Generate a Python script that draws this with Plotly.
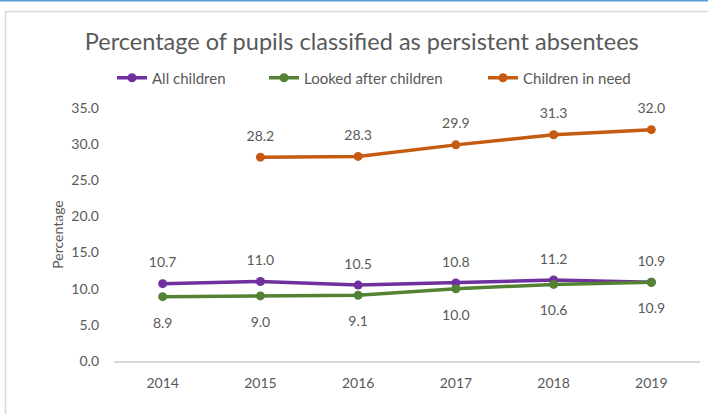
import plotly.graph_objects as go

years = ["2014", "2015", "2016", "2017", "2018", "2019"]
all_children = [10.7, 11.0, 10.5, 10.8, 11.2, 10.9]
looked_after = [8.9, 9.0, 9.1, 10.0, 10.6, 10.9]
children_in_need = [None, 28.2, 28.3, 29.9, 31.3, 32.0]
y_ticks = [0, 5, 10, 15, 20, 25, 30, 35]

FONT = "Lato, 'Open Sans', sans-serif"
GRAY = "#595959"
PL, PR, PT, PB = 114, 8, 108, 53
PW = 708 - PL - PR
PH = 414 - PT - PB

def txt(vals):
    return ["" if v is None else f"{v:.1f}" for v in vals]

def px_x(p):
    return (p - PL) / PW

def px_y(p):
    return (414 - PB - p) / PH

fig = go.Figure()
series = [
    ("All children", all_children, "#7030A0", "top center", 19, "legend", 112),
    ("Looked after children", looked_after, "#548235", "bottom center", 31, "legend2", 264),
    ("Children in need", children_in_need, "#C55A11", "top center", 19, "legend3", 483),
]
for name, vals, col, pos, lblsize, leg, lx in series:
    fig.add_trace(go.Scatter(
        x=years, y=vals, name=name, mode="lines+markers",
        line=dict(color=col, width=3.5),
        marker=dict(color=col, size=9),
        connectgaps=False, legend=leg, cliponaxis=False,
    ))
for name, vals, col, pos, lblsize, leg, lx in series:
    fig.add_trace(go.Scatter(
        x=years, y=vals, mode="markers+text", showlegend=False, hoverinfo="skip",
        marker=dict(color="rgba(0,0,0,0)", size=lblsize),
        text=txt(vals), textposition=pos, cliponaxis=False,
        textfont=dict(family=FONT, size=14, color=GRAY),
    ))

legend_common = dict(orientation="h", yanchor="middle", xanchor="left",
                     font=dict(size=15, color=GRAY, family=FONT),
                     bgcolor="rgba(0,0,0,0)")
legends = {}
for name, vals, col, pos, lblsize, leg, lx in series:
    legends[leg] = dict(legend_common, x=px_x(lx), y=px_y(78))

fig.update_layout(
    width=708, height=414,
    margin=dict(l=PL, r=PR, t=PT, b=PB, autoexpand=False),
    paper_bgcolor="white", plot_bgcolor="white",
    font=dict(family=FONT, color=GRAY),
    title=dict(text="Percentage of pupils classified as persistent absentees",
               x=0.511, xanchor="center", y=1 - 42 / 414, yanchor="middle",
               font=dict(size=23.5, color=GRAY, family=FONT)),
    showlegend=True,
    xaxis=dict(type="category", showgrid=False, showline=True, linecolor="#D9D9D9",
               linewidth=1.5, ticks="", tickfont=dict(size=14, color=GRAY, family=FONT),
               zeroline=False, ticklabelstandoff=8),
    yaxis=dict(range=[0, 35], tickvals=y_ticks, tickformat=".1f", showgrid=False,
               showline=False, zeroline=False, ticks="", ticklabelstandoff=14,
               tickfont=dict(size=14, color=GRAY, family=FONT),
               title=dict(text="Percentage", font=dict(size=14, color=GRAY, family=FONT),
                          standoff=4)),
    shapes=[
        dict(type="rect", xref="paper", yref="paper",
             x0=px_x(5.5), x1=px_x(760), y0=px_y(480), y1=px_y(11.5),
             line=dict(color="#D9D9D9", width=1.5), fillcolor="rgba(0,0,0,0)", layer="below"),
        dict(type="line", xref="paper", yref="paper",
             x0=px_x(-10), x1=px_x(760), y0=px_y(0.5), y1=px_y(0.5),
             line=dict(color="#5B9BD5", width=2)),
    ],
)
fig.update_layout(**legends)

fig.write_html("out.html", config={"displayModeBar": False},
               post_script="document.body.style.margin='0';document.body.style.overflow='hidden';")
